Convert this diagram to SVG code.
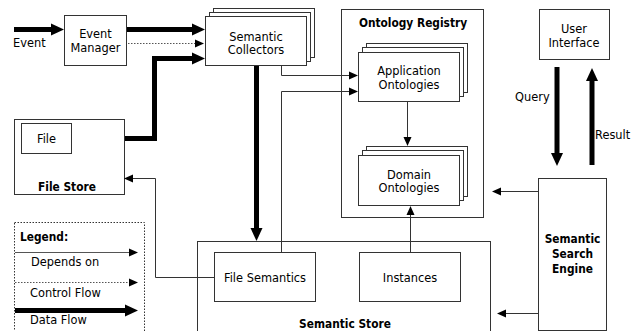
<svg xmlns="http://www.w3.org/2000/svg" width="633" height="331" viewBox="0 0 633 331">
  <style>
    text { font-family: "DejaVu Sans", sans-serif; font-size: 11.4px; fill: #000; }
    .b { font-family: "DejaVu Sans Condensed", "DejaVu Sans", sans-serif; font-stretch: condensed; font-weight: bold; font-size: 11.8px; }
    .m { text-anchor: middle; }
    .box { fill: #fff; stroke: #333; stroke-width: 1; }
    .thin { fill: none; stroke: #333; stroke-width: 1; }
    .dot { fill: none; stroke: #555; stroke-width: 1; stroke-dasharray: 1.5 1.5; }
    .thick { fill: none; stroke: #000; stroke-width: 5; }
  </style>
  <defs>
    <marker id="ah" markerUnits="userSpaceOnUse" markerWidth="10" markerHeight="8" refX="0" refY="4" orient="auto" overflow="visible">
      <path d="M0,0 L9,4 L0,8 z" fill="#000"/>
    </marker>
    <marker id="ahT" markerUnits="userSpaceOnUse" markerWidth="14" markerHeight="12" refX="0" refY="6" orient="auto" overflow="visible">
      <path d="M0,0 L13,6 L0,12 z" fill="#000"/>
    </marker>
  </defs>

  <!-- Legend -->
  <g id="legend">
    <rect x="14.5" y="222.5" width="130" height="120" fill="#fff" stroke="#333" stroke-dasharray="1.5 1.5"/>
    <text x="20" y="241" class="b">Legend:</text>
    <line x1="15" y1="252.5" x2="129" y2="252.5" stroke="#555" stroke-width="1" marker-end="url(#ah)"/>
    <text x="31" y="266">Depends on</text>
    <line x1="15" y1="282.5" x2="129" y2="282.5" class="dot" marker-end="url(#ah)"/>
    <text x="30" y="297">Control Flow</text>
    <line x1="15" y1="310.5" x2="125" y2="310.5" class="thick" marker-end="url(#ahT)"/>
    <text x="30" y="324">Data Flow</text>
  </g>

  <!-- Nodes -->
  <g id="event-manager">
    <rect class="box" x="64.5" y="15.5" width="62" height="50"/>
    <text class="m" x="95.5" y="38">Event</text>
    <text class="m" x="95.5" y="52">Manager</text>
  </g>

  <g id="semantic-collectors">
    <rect class="box" x="213.5" y="8.5" width="101" height="49"/>
    <rect class="box" x="209.5" y="12.5" width="101" height="49"/>
    <rect class="box" x="205.5" y="16.5" width="101" height="49"/>
    <text class="m" x="256" y="41">Semantic</text>
    <text class="m" x="256" y="54">Collectors</text>
  </g>

  <g id="file-store">
    <rect class="box" x="14.5" y="119.5" width="110" height="75"/>
    <rect class="box" x="21.5" y="123.5" width="50" height="30"/>
    <text class="m" x="46.5" y="143">File</text>
    <text class="m b" x="67" y="191">File Store</text>
  </g>

  <g id="ontology-registry">
    <rect class="box" x="341.5" y="9.5" width="142" height="208"/>
    <text class="m b" x="413" y="27">Ontology Registry</text>
  </g>

  <g id="application-ontologies">
    <rect class="box" x="366.5" y="43.5" width="101" height="49"/>
    <rect class="box" x="362.5" y="47.5" width="101" height="49"/>
    <rect class="box" x="358.5" y="52.5" width="101" height="49"/>
    <text class="m" x="409" y="75">Application</text>
    <text class="m" x="409" y="89">Ontologies</text>
  </g>

  <g id="domain-ontologies">
    <rect class="box" x="366.5" y="146.5" width="101" height="50"/>
    <rect class="box" x="362.5" y="150.5" width="101" height="50"/>
    <rect class="box" x="358.5" y="155.5" width="101" height="50"/>
    <text class="m" x="409" y="179">Domain</text>
    <text class="m" x="409" y="192">Ontologies</text>
  </g>

  <g id="user-interface">
    <rect class="box" x="539.5" y="9.5" width="70" height="50"/>
    <text class="m" x="574" y="33">User</text>
    <text class="m" x="574" y="47">Interface</text>
  </g>

  <g id="semantic-search-engine">
    <rect class="box" x="538.5" y="178.5" width="68" height="152"/>
    <text class="m b" x="572.5" y="243">Semantic</text>
    <text class="m b" x="572.5" y="258">Search</text>
    <text class="m b" x="572.5" y="273">Engine</text>
  </g>

  <g id="semantic-store">
    <rect class="box" x="197.5" y="241.5" width="293" height="100"/>
    <text class="m b" x="345" y="328">Semantic Store</text>
  </g>

  <g id="file-semantics">
    <rect class="box" x="214.5" y="252.5" width="101" height="49"/>
    <text class="m" x="265" y="282">File Semantics</text>
  </g>

  <g id="instances">
    <rect class="box" x="359.5" y="252.5" width="101" height="49"/>
    <text class="m" x="410" y="282">Instances</text>
  </g>

  <!-- Connectors -->
  <g id="connectors">
    <!-- incoming events -->
    <line class="thick" x1="14" y1="29.5" x2="51" y2="29.5" marker-end="url(#ahT)"/>
    <text x="13" y="47">Event</text>
    <!-- event manager to collectors -->
    <line class="thick" x1="127" y1="29.5" x2="192" y2="29.5" marker-end="url(#ahT)"/>
    <line class="dot" x1="128" y1="43.5" x2="195" y2="43.5" marker-end="url(#ah)"/>
    <!-- file store data to collectors -->
    <polyline class="thick" points="125,138.5 154.5,138.5 154.5,58.5 192,58.5" marker-end="url(#ahT)"/>
    <!-- collectors to semantic store -->
    <line class="thick" x1="256.5" y1="66" x2="256.5" y2="228" marker-end="url(#ahT)"/>
    <!-- collectors depend on application ontologies -->
    <polyline class="thin" points="281.5,66 281.5,75.5 349,75.5" marker-end="url(#ah)"/>
    <!-- file semantics depend on application ontologies -->
    <polyline class="thin" points="281.5,252 281.5,91.5 349,91.5" marker-end="url(#ah)"/>
    <!-- application to domain ontologies -->
    <line class="thin" x1="407.5" y1="102" x2="407.5" y2="137" marker-end="url(#ah)"/>
    <!-- instances to domain ontologies -->
    <line class="thin" x1="410.5" y1="252" x2="410.5" y2="215" marker-end="url(#ah)"/>
    <!-- file semantics to file store -->
    <polyline class="thin" points="214,277.5 155.5,277.5 155.5,178.5 133,178.5" marker-end="url(#ah)"/>
    <!-- search engine to registry and store -->
    <line class="thin" x1="538" y1="191.5" x2="501" y2="191.5" marker-end="url(#ah)"/>
    <line class="thin" x1="538" y1="313.5" x2="506" y2="313.5" marker-end="url(#ah)"/>
    <!-- query / result -->
    <line class="thick" x1="557" y1="67" x2="557" y2="153" marker-end="url(#ahT)"/>
    <text x="515" y="101">Query</text>
    <line class="thick" x1="592" y1="165" x2="592" y2="81" marker-end="url(#ahT)"/>
    <text x="595" y="139">Result</text>
  </g>
</svg>
